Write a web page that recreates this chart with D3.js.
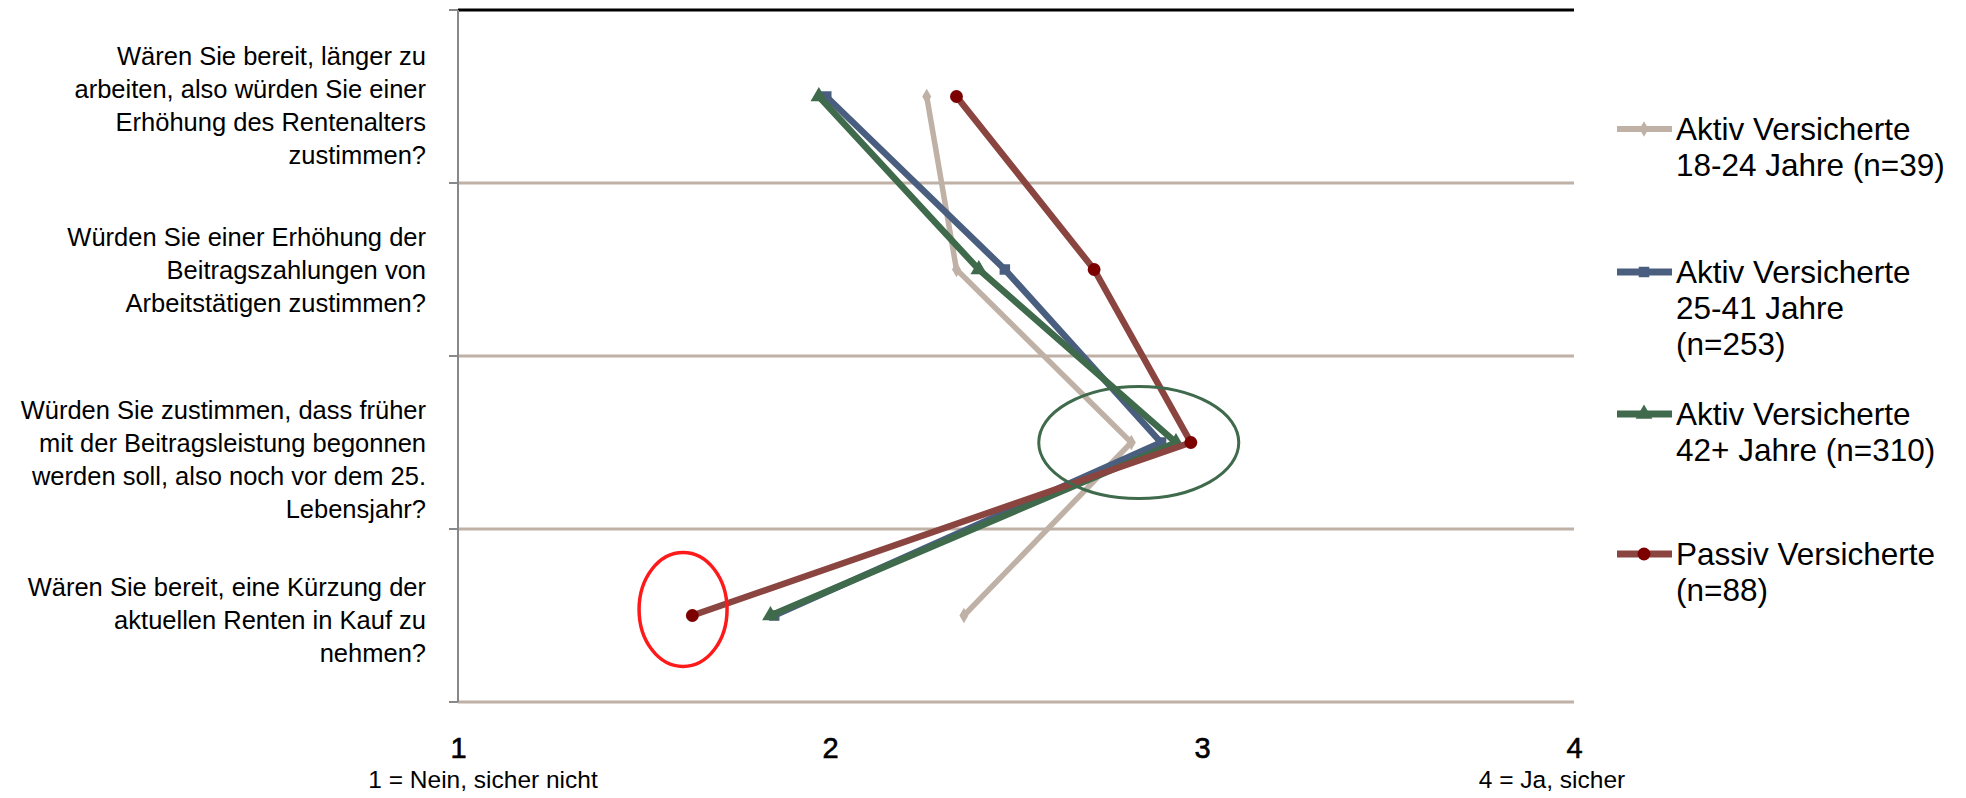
<!DOCTYPE html>
<html>
<head>
<meta charset="utf-8">
<script src="https://cdn.jsdelivr.net/npm/d3@7/dist/d3.min.js"></script>
<style>
  html, body { margin: 0; padding: 0; background: #fff; }
  svg { display: block; font-family: "Liberation Sans", Arial, sans-serif; }
</style>
</head>
<body>
<svg id="chart" width="1966" height="798"></svg>
<script>
// Survey questions (one per row), answers on a 1..4 agreement scale
const questions = [
  "Wären Sie bereit, länger zu\narbeiten, also würden Sie einer\nErhöhung des Rentenalters\nzustimmen?",
  "Würden Sie einer Erhöhung der\nBeitragszahlungen von\nArbeitstätigen zustimmen?",
  "Würden Sie zustimmen, dass früher\nmit der Beitragsleistung begonnen\nwerden soll, also noch vor dem 25.\nLebensjahr?",
  "Wären Sie bereit, eine Kürzung der\naktuellen Renten in Kauf zu\nnehmen?"
];

const seriesNames = [
  "Aktiv Versicherte\n18-24 Jahre (n=39)",
  "Aktiv Versicherte\n25-41 Jahre\n(n=253)",
  "Aktiv Versicherte\n42+ Jahre (n=310)",
  "Passiv Versicherte\n(n=88)"
];

const aktiv18to24 = [2.26, 2.34, 2.81, 2.36];
const aktiv25to41 = [1.99, 2.47, 2.89, 1.85];
const aktiv42plus = [1.97, 2.40, 2.93, 1.84];
const passiv      = [2.34, 2.71, 2.97, 1.63];

const xTicks = [1, 2, 3, 4];
const scaleNotes = ["1 = Nein, sicher nicht", "4 = Ja, sicher"];

// Styling per series
const styles = [
  { line: "#bfb1a5", marker: "#bfb1a5", shape: "diamond",  width: 5.5, size: 70 },
  { line: "#4a5f7f", marker: "#4a5f7f", shape: "square",   width: 6.5, size: 110 },
  { line: "#3f6a4b", marker: "#3f6a4b", shape: "triangle", width: 6.5, size: 120 },
  { line: "#8b4540", marker: "#7d0000", shape: "circle",   width: 6.5, size: 130 }
];
const seriesValues = [aktiv18to24, aktiv25to41, aktiv42plus, passiv];

const svg = d3.select("#chart");
const plotL = 458, plotR = 1574, plotT = 10, plotB = 702;

const x = d3.scaleLinear().domain([1, 4]).range([plotL, plotR]);
const yBand = d3.scaleBand().domain(questions).range([plotT, plotB]);
const yc = q => yBand(q) + yBand.bandwidth() / 2;

// Row separators (tan) and frame
const g = svg.append("g");
const edges = questions.map(q => yBand(q) + yBand.bandwidth());
g.selectAll("line.grid").data(edges).join("line")
  .attr("x1", plotL).attr("x2", plotR)
  .attr("y1", d => d).attr("y2", d => d)
  .attr("stroke", "#bfb1a5").attr("stroke-width", 3);
g.append("line")
  .attr("x1", plotL).attr("x2", plotR).attr("y1", plotT).attr("y2", plotT)
  .attr("stroke", "#000").attr("stroke-width", 3);

// Left category axis with outward ticks at row boundaries
const tickYs = [plotT].concat(edges);
g.append("line")
  .attr("x1", plotL).attr("x2", plotL).attr("y1", plotT).attr("y2", plotB)
  .attr("stroke", "#888").attr("stroke-width", 2);
g.selectAll("line.tick").data(tickYs).join("line")
  .attr("x1", plotL - 9).attr("x2", plotL)
  .attr("y1", d => d).attr("y2", d => d)
  .attr("stroke", "#888").attr("stroke-width", 2);

// Question labels, right-aligned; first-line offset from the row centre
const lineH = 33;
const firstLineOffset = [-40, -32, -32, -28];
questions.forEach((q, qi) => {
  const lines = q.split("\n");
  const t = svg.append("text")
    .attr("transform", `translate(426,${yc(q) + firstLineOffset[qi]})`)
    .attr("text-anchor", "end")
    .attr("font-size", 25.5)
    .attr("fill", "#000");
  lines.forEach((s, i) => t.append("tspan").attr("x", 0).attr("y", i * lineH).attr("dy", "0.35em").text(s));
});

// Bottom value axis: numbers only
const xAxis = d3.axisBottom(x).tickValues(xTicks).tickSize(0).tickFormat(d3.format("d"));
const ax = svg.append("g").attr("transform", `translate(0,${plotB})`).call(xAxis);
ax.select(".domain").remove();
ax.selectAll("text")
  .attr("font-size", 29).attr("fill", "#000")
  .attr("stroke", "#000").attr("stroke-width", 0.6)
  .attr("font-family", "Liberation Sans, Arial, sans-serif")
  .attr("y", 56).attr("dy", 0);

// Scale explanation notes under 1 and 4
svg.append("text")
  .attr("transform", `translate(${x(1) + 25},788)`)
  .attr("text-anchor", "middle").attr("font-size", 24.5).text(scaleNotes[0]);
svg.append("text")
  .attr("transform", `translate(${x(4) - 22},788)`)
  .attr("text-anchor", "middle").attr("font-size", 24.5).text(scaleNotes[1]);

// Series lines and markers
const symType = { diamond: d3.symbolDiamond, square: d3.symbolSquare, triangle: d3.symbolTriangle, circle: d3.symbolCircle };
const lineGen = d3.line().x(d => x(d.v)).y(d => yc(d.q));

seriesValues.forEach((vals, si) => {
  const st = styles[si];
  const pts = vals.map((v, i) => ({ v, q: questions[i] }));
  svg.append("path").datum(pts)
    .attr("d", lineGen)
    .attr("fill", "none").attr("stroke", st.line)
    .attr("stroke-width", st.width).attr("stroke-linejoin", "miter");
  svg.selectAll(null).data(pts).join("path")
    .attr("transform", d => `translate(${x(d.v)},${yc(d.q)})`)
    .attr("d", d3.symbol().type(symType[st.shape]).size(st.size))
    .attr("fill", st.marker);
});

// Highlight ellipses
svg.append("ellipse")
  .attr("cx", x(2.83)).attr("cy", yc(questions[2]))
  .attr("rx", 100).attr("ry", 56)
  .attr("fill", "none").attr("stroke", "#3f6a4b").attr("stroke-width", 3);
svg.append("ellipse")
  .attr("cx", x(1.605)).attr("cy", yc(questions[3]) - 6)
  .attr("rx", 44).attr("ry", 57)
  .attr("fill", "none").attr("stroke", "#ff1a1a").attr("stroke-width", 3.5);

// Legend
const legendTops = [129, 272, 414, 554];
const legendLineH = 36;
seriesNames.forEach((name, si) => {
  const st = styles[si];
  const lg = svg.append("g").attr("transform", `translate(0,${legendTops[si]})`);
  lg.append("line").attr("x1", 1617).attr("x2", 1672).attr("y1", 0).attr("y2", 0)
    .attr("stroke", st.line).attr("stroke-width", st.width + 0.5);
  lg.append("path").attr("transform", "translate(1644,0)")
    .attr("d", d3.symbol().type(symType[st.shape]).size(st.size)).attr("fill", st.marker);
  const t = lg.append("text")
    .attr("transform", "translate(1676,0)")
    .attr("font-size", 31.5).attr("fill", "#000");
  name.split("\n").forEach((s, i) => t.append("tspan").attr("x", 0).attr("y", i * legendLineH).attr("dy", "0.35em").text(s));
});
</script>
</body>
</html>
